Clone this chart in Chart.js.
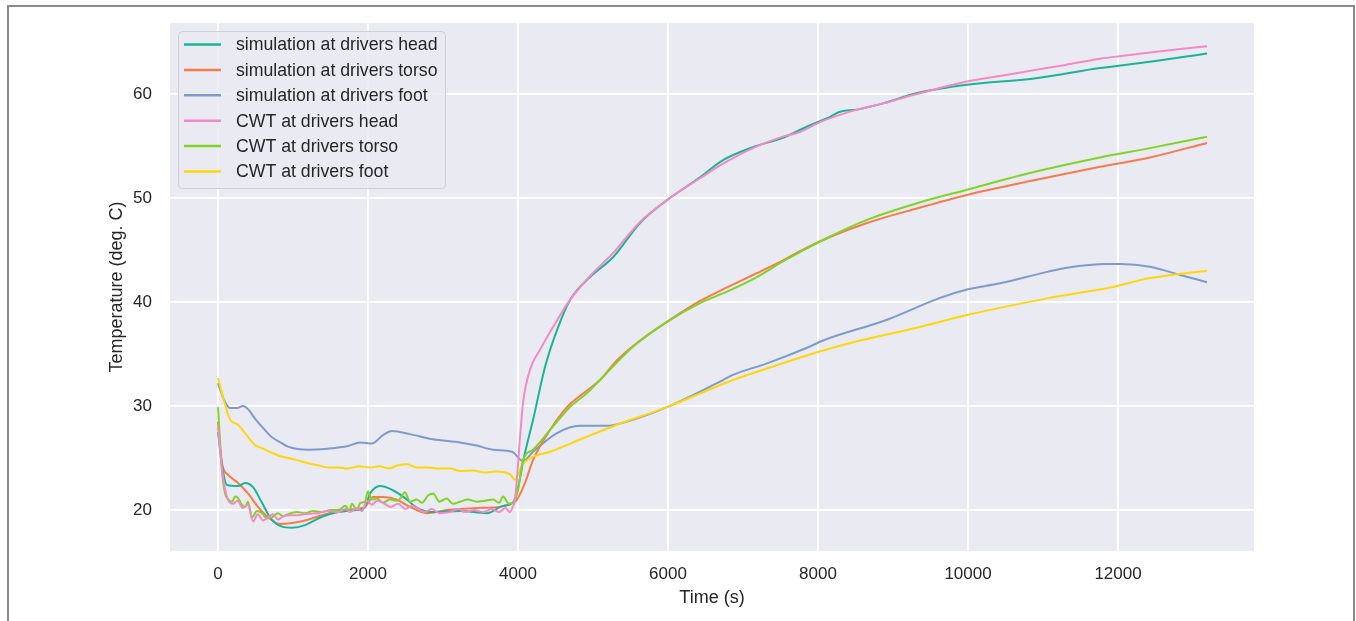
<!DOCTYPE html>
<html>
<head>
<meta charset="utf-8">
<script src="https://cdn.jsdelivr.net/npm/chart.js@4.4.0/dist/chart.umd.min.js"></script>
<style>
  html, body { margin: 0; padding: 0; background: #fff; overflow: hidden; }
  #wrap { position: relative; width: 1356px; height: 621px; }
  #frame { position: absolute; left: 7px; top: 5px; width: 1348px; height: 660px;
           border: 2px solid #8a8a8a; box-sizing: border-box; pointer-events: none; }
</style>
</head>
<body>
<div id="wrap">
  <canvas id="chart" width="1356" height="621"></canvas>
  <div id="frame"></div>
</div>
<script>
// axis ticks
const xTicks = [0, 2000, 4000, 6000, 8000, 10000, 12000];
const yTicks = [20, 30, 40, 50, 60];

// simulation at drivers head
const simHeadT = [0, 60, 120, 267, 360, 467, 587, 693, 853, 987, 1160, 1387, 1600, 1850, 1950, 2030, 2160, 2333, 2520, 2653, 2867, 3227, 3587, 3800, 3933, 4000, 4093, 4200, 4360, 4520, 4693, 4960, 5267, 5627, 5987, 6427, 6733, 7133, 7533, 7893, 8160, 8293, 8520, 8867, 9320, 9987, 10880, 11760, 12427, 13187];
const simHeadY = [27.5, 24.0, 22.4, 22.3, 22.6, 22.2, 20.7, 19.3, 18.4, 18.3, 18.55, 19.35, 19.8, 20.0, 20.2, 21.6, 22.3, 21.9, 21.0, 20.2, 19.8, 19.9, 19.7, 20.4, 20.7, 22.2, 25.5, 28.65, 33.75, 37.3, 40.2, 42.4, 44.3, 47.6, 49.8, 52.0, 53.65, 54.9, 55.8, 57.0, 57.8, 58.3, 58.5, 59.1, 60.1, 60.9, 61.5, 62.5, 63.1, 63.9];

// simulation at drivers torso
const simTorsoT = [0, 53, 133, 267, 400, 533, 667, 827, 987, 1160, 1387, 1693, 1960, 2067, 2200, 2387, 2560, 2787, 3053, 3453, 3760, 3933, 3987, 4093, 4200, 4427, 4653, 4867, 5093, 5320, 5627, 5987, 6427, 6787, 7133, 7533, 7760, 8160, 8653, 9320, 9987, 10880, 11760, 12427, 13187];
const simTorsoY = [28.5, 24.5, 23.4, 22.6, 21.6, 20.3, 19.3, 18.65, 18.75, 19.0, 19.5, 20.0, 20.3, 21.25, 21.25, 21.0, 20.3, 19.7, 20.0, 20.2, 20.3, 20.7, 21.0, 22.6, 24.8, 27.7, 29.9, 31.2, 32.5, 34.4, 36.3, 38.1, 40.1, 41.4, 42.6, 44.0, 44.9, 46.25, 47.6, 49.0, 50.3, 51.7, 53.0, 53.9, 55.3];

// simulation at drivers foot
const simFootT = [0, 80, 160, 250, 333, 400, 493, 600, 720, 833, 933, 1200, 1467, 1733, 1893, 2053, 2200, 2320, 2560, 2867, 3227, 3450, 3667, 3920, 4067, 4200, 4520, 4827, 5187, 5400, 5987, 6653, 6867, 7320, 7853, 8067, 8920, 9627, 9987, 10427, 11053, 11320, 11853, 12027, 12427, 12827, 13187];
const simFootY = [32.2, 30.6, 29.8, 29.8, 30.0, 29.7, 28.8, 27.9, 27.0, 26.5, 26.1, 25.8, 25.9, 26.15, 26.5, 26.4, 27.2, 27.6, 27.3, 26.8, 26.5, 26.2, 25.8, 25.6, 24.7, 25.6, 27.4, 28.1, 28.1, 28.4, 29.9, 32.2, 33.0, 34.1, 35.6, 36.3, 38.3, 40.4, 41.2, 41.8, 42.9, 43.3, 43.65, 43.65, 43.4, 42.6, 41.9];

// CWT at drivers head
const cwtHeadT = [0, 60, 133, 200, 260, 330, 400, 467, 530, 600, 653, 730, 800, 867, 950, 1050, 1150, 1320, 1450, 1600, 1700, 1760, 1850, 1920, 1987, 2050, 2120, 2200, 2300, 2400, 2500, 2580, 2653, 2750, 2850, 2950, 3093, 3200, 3300, 3420, 3533, 3650, 3750, 3830, 3893, 3930, 3960, 4027, 4067, 4160, 4293, 4467, 4693, 4960, 5267, 5627, 5987, 6427, 6733, 7133, 7533, 7760, 8027, 8293, 8520, 8867, 9320, 9987, 10400, 10880, 11300, 11760, 12100, 12427, 12800, 13187];
const cwtHeadY = [28.0, 23.5, 21.0, 20.6, 20.9, 20.2, 20.5, 18.9, 19.6, 19.0, 19.2, 19.6, 19.1, 19.4, 19.5, 19.5, 19.6, 19.7, 19.9, 19.8, 20.1, 19.8, 20.2, 19.9, 20.9, 20.5, 20.9, 20.7, 20.3, 20.6, 20.1, 20.4, 20.2, 19.8, 20.1, 19.7, 19.8, 20.1, 19.8, 20.0, 19.8, 20.1, 19.8, 20.2, 19.8, 20.3, 21.0, 27.0, 30.3, 33.5, 35.4, 37.6, 40.2, 42.5, 44.7, 47.7, 49.8, 51.9, 53.3, 54.8, 55.9, 56.35, 57.3, 58.0, 58.5, 59.1, 60.0, 61.2, 61.7, 62.3, 62.8, 63.4, 63.7, 64.0, 64.3, 64.6];

// CWT at drivers torso
const cwtTorsoT = [0, 53, 93, 140, 187, 230, 267, 310, 360, 400, 453, 520, 587, 650, 720, 800, 870, 933, 1050, 1160, 1270, 1387, 1500, 1600, 1700, 1750, 1787, 1850, 1900, 1960, 2000, 2050, 2120, 2200, 2293, 2400, 2493, 2560, 2650, 2720, 2800, 2870, 2950, 3050, 3130, 3227, 3330, 3453, 3560, 3667, 3750, 3800, 3880, 3933, 4000, 4067, 4200, 4427, 4693, 4920, 5093, 5533, 5987, 6427, 6787, 7133, 7533, 7760, 8160, 8653, 9320, 9987, 10880, 11760, 12427, 13187];
const cwtTorsoY = [29.9, 23.8, 21.6, 21.0, 20.8, 21.3, 21.15, 20.6, 20.3, 20.8, 19.3, 19.9, 19.7, 19.2, 19.3, 19.7, 19.4, 19.6, 19.8, 19.7, 19.9, 19.8, 20.0, 20.0, 20.4, 19.9, 20.6, 20.0, 20.7, 20.8, 21.8, 21.0, 21.1, 20.7, 21.0, 20.9, 21.7, 20.8, 21.0, 20.7, 21.4, 21.6, 20.8, 21.1, 20.6, 20.8, 21.0, 20.8, 20.9, 21.0, 20.7, 21.3, 20.6, 20.7, 21.9, 24.8, 25.8, 27.7, 29.9, 31.25, 32.5, 35.7, 38.1, 39.9, 41.0, 42.2, 43.9, 44.8, 46.3, 47.9, 49.5, 50.8, 52.5, 53.9, 54.8, 55.9];

// CWT at drivers foot
const cwtFootT = [0, 80, 160, 267, 380, 493, 600, 720, 820, 933, 1050, 1200, 1330, 1467, 1600, 1733, 1880, 2027, 2150, 2280, 2400, 2520, 2650, 2800, 2950, 3100, 3227, 3400, 3550, 3700, 3800, 3900, 3960, 4053, 4160, 4427, 4867, 5320, 5987, 6867, 7400, 8000, 8560, 9300, 9987, 11093, 11933, 12427, 13187];
const cwtFootY = [32.7, 30.5, 28.7, 28.2, 27.2, 26.25, 25.9, 25.5, 25.2, 25.0, 24.8, 24.5, 24.3, 24.1, 24.1, 24.0, 24.2, 24.1, 24.2, 24.0, 24.3, 24.4, 24.1, 24.1, 24.0, 24.0, 23.75, 23.8, 23.6, 23.7, 23.65, 23.4, 22.9, 24.3, 25.0, 25.6, 26.9, 28.2, 29.9, 32.5, 33.8, 35.2, 36.3, 37.5, 38.75, 40.4, 41.45, 42.3, 43.0];

const pts = (t, y) => t.map((v, i) => ({ x: v, y: y[i] }));

const font = '"Liberation Sans", Arial, Helvetica, sans-serif';
const textColor = '#262626';

// 배경 (seaborn darkgrid 느낌)
const plotBg = {
  id: 'plotBg',
  beforeDraw(chart) {
    const { ctx, chartArea: a } = chart;
    ctx.save();
    ctx.fillStyle = '#eaeaf2';
    ctx.fillRect(a.left, a.top, a.right - a.left, a.bottom - a.top);
    ctx.restore();
  }
};

// 범례: 플롯 안쪽 좌상단
const legendBox = {
  id: 'legendBox',
  afterDatasetsDraw(chart) {
    const { ctx } = chart;
    ctx.save();
    ctx.beginPath();
    ctx.roundRect(178.5, 31.5, 267, 157, 4);
    ctx.fillStyle = 'rgba(234,234,242,0.8)';
    ctx.fill();
    ctx.strokeStyle = '#cfcfd6';
    ctx.lineWidth = 1;
    ctx.stroke();
    ctx.font = '17.7px ' + font;
    ctx.textBaseline = 'middle';
    chart.data.datasets.forEach((ds, i) => {
      const cy = 44.5 + i * 25.4;
      ctx.strokeStyle = ds.borderColor;
      ctx.lineWidth = 2.5;
      ctx.beginPath();
      ctx.moveTo(184, cy);
      ctx.lineTo(221, cy);
      ctx.stroke();
      ctx.fillStyle = textColor;
      ctx.fillText(ds.label, 236, cy + 1);
    });
    ctx.restore();
  }
};

const line = (label, data, color, order) => ({
  label, data, order,
  borderColor: color,
  borderWidth: 2,
  pointRadius: 0,
  fill: false,
  cubicInterpolationMode: 'monotone'
});

new Chart(document.getElementById('chart'), {
  type: 'line',
  data: {
    datasets: [
      line('simulation at drivers head',  pts(simHeadT,  simHeadY),  '#1ab496', 1),
      line('simulation at drivers torso', pts(simTorsoT, simTorsoY), '#fa7a4b', 1),
      line('simulation at drivers foot',  pts(simFootT,  simFootY),  '#7f9bcc', 1),
      line('CWT at drivers head',         pts(cwtHeadT,  cwtHeadY),  '#f38ac4', 0),
      line('CWT at drivers torso',        pts(cwtTorsoT, cwtTorsoY), '#7fd424', 0),
      line('CWT at drivers foot',         pts(cwtFootT,  cwtFootY),  '#ffd60a', 0)
    ]
  },
  options: {
    responsive: false,
    animation: false,
    layout: { padding: { left: 106, right: 102, top: 23, bottom: 0 } },
    plugins: { legend: { display: false }, tooltip: { enabled: false } },
    scales: {
      x: {
        type: 'linear',
        min: -640,
        max: 13813,
        afterFit: s => { s.height = 70; s.paddingLeft = 0; s.paddingRight = 0; },
        afterBuildTicks: s => { s.ticks = xTicks.map(v => ({ value: v })); },
        grid: { color: '#ffffff', lineWidth: 1.8, drawTicks: false },
        border: { display: false },
        ticks: { padding: 13, color: textColor, font: { family: font, size: 17 }, maxRotation: 0,
                 callback: v => String(v) },
        title: { display: true, text: 'Time (s)', color: textColor,
                 font: { family: font, size: 18 }, padding: { top: 0, bottom: 12 } }
      },
      y: {
        min: 16.06,
        max: 66.83,
        afterFit: s => { s.width = 64; s.paddingTop = 0; s.paddingBottom = 0; },
        afterBuildTicks: s => { s.ticks = yTicks.map(v => ({ value: v })); },
        grid: { color: '#ffffff', lineWidth: 1.8, drawTicks: false },
        border: { display: false },
        ticks: { padding: 18, color: textColor, font: { family: font, size: 17 },
                 callback: v => String(v) },
        title: { display: true, text: 'Temperature (deg. C)', color: textColor,
                 font: { family: font, size: 18 }, padding: { top: 0, bottom: 0 } }
      }
    }
  },
  plugins: [plotBg, legendBox]
});
</script>
</body>
</html>
